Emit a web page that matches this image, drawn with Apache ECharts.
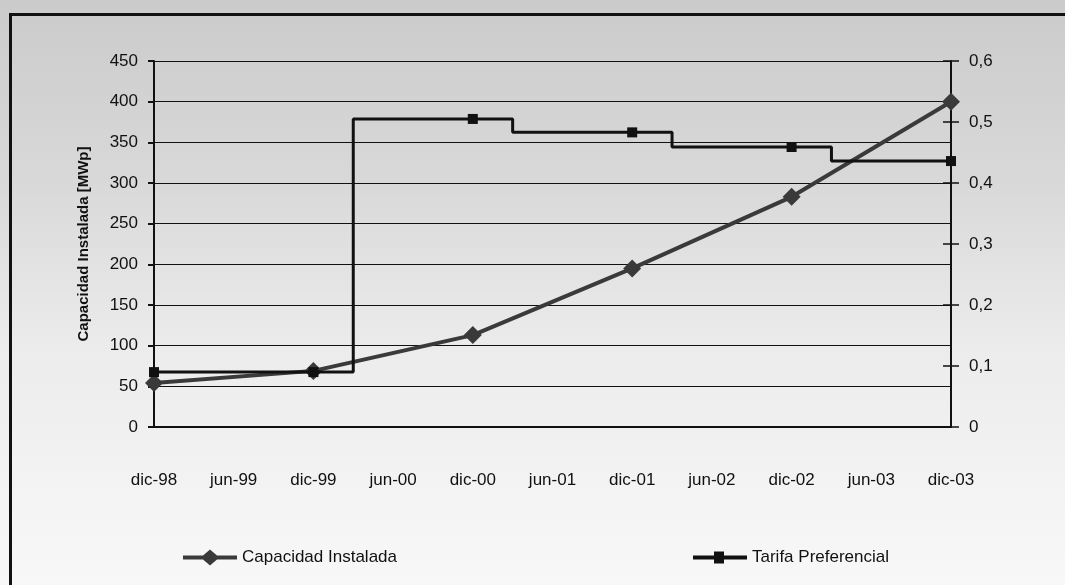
<!DOCTYPE html>
<html>
<head>
<meta charset="utf-8">
<script src="https://cdn.jsdelivr.net/npm/echarts@6/dist/echarts.min.js"></script>
<style>
  html, body { margin: 0; padding: 0; }
  #main { width: 1065px; height: 585px; }
</style>
</head>
<body>
<div id="main"></div>
<script>
// etiquetas del eje x (cada 6 meses, desde dic-98)
var xLabels = ['dic-98', 'jun-99', 'dic-99', 'jun-00', 'dic-00', 'jun-01',
    'dic-01', 'jun-02', 'dic-02', 'jun-03', 'dic-03'];

// capacidad instalada [MWp], meses contados desde dic-98
var capMonths = [0, 12, 24, 36, 48, 60];
var capValues = [54, 69, 113, 195, 283, 400];

// tarifa preferencial (cambia en marzo de cada año)
var tarMonths = [0, 12, 15, 24, 27, 36, 39, 48, 51, 60];
var tarValues = [0.09, 0.09, 0.505, 0.505, 0.483, 0.483, 0.459, 0.459, 0.436, 0.436];
var tarMarker = [true, true, false, true, false, true, false, true, false, true];

var FONT = "'Liberation Sans', Arial, sans-serif";

// iconos de leyenda: linea gruesa con marcador
var capIcon = 'path://M0,6L20,6L27,0L34,6L54,6L54,10L34,10L27,16L20,10L0,10Z';
var tarIcon = 'path://M0,4L21,4L21,0L31,0L31,4L54,4L54,8L31,8L31,12L21,12L21,8L0,8Z';

var capData = capMonths.map(function (m, i) {
    return [m, capValues[i]];
});
var tarData = tarMonths.map(function (m, i) {
    var item = {value: [m, tarValues[i]]};
    if (!tarMarker[i]) {
        item.symbol = 'none';
    }
    return item;
});

var myChart = echarts.init(document.getElementById('main'));
var option = {
    animation: false,
    backgroundColor: new echarts.graphic.LinearGradient(0, 0, 0, 1, [
        {offset: 0, color: '#cbcbcb'},
        {offset: 0.3, color: '#d8d8d8'},
        {offset: 0.6, color: '#ececec'},
        {offset: 1, color: '#f8f8f8'}
    ]),
    textStyle: {fontFamily: FONT},
    graphic: [{
        type: 'rect',
        shape: {x: 10.5, y: 14.5, width: 1100, height: 700},
        style: {fill: 'none', stroke: '#111', lineWidth: 3},
        silent: true
    }],
    grid: {
        left: 154,
        top: 61,
        right: 114,
        bottom: 158
    },
    legend: [{
        left: 178,
        top: 544,
        itemWidth: 54,
        itemHeight: 16,
        itemGap: 5,
        textStyle: {color: '#111', fontSize: 17, fontFamily: FONT},
        data: [{name: 'Capacidad Instalada', icon: capIcon, itemStyle: {color: '#3a3a3a'}}]
    }, {
        left: 688,
        top: 544,
        itemWidth: 54,
        itemHeight: 12,
        textStyle: {color: '#111', fontSize: 17, fontFamily: FONT},
        data: [{name: 'Tarifa Preferencial', icon: tarIcon, itemStyle: {color: '#111'}}]
    }],
    xAxis: {
        type: 'value',
        min: 0,
        max: 60,
        interval: 6,
        axisLine: {show: true, lineStyle: {color: '#111', width: 2}},
        axisTick: {show: false},
        splitLine: {show: false},
        axisLabel: {
            margin: 45,
            color: '#111',
            fontSize: 17,
            fontFamily: FONT,
            formatter: function (v) {
                return xLabels[Math.round(v / 6)];
            }
        }
    },
    yAxis: [{
        type: 'value',
        min: 0,
        max: 450,
        interval: 50,
        name: 'Capacidad Instalada [MWp]',
        nameLocation: 'middle',
        nameRotate: 90,
        nameGap: 63,
        nameTextStyle: {color: '#111', fontSize: 15, fontWeight: 'bold', fontFamily: FONT},
        axisLine: {show: true, lineStyle: {color: '#111', width: 2}},
        axisTick: {show: true, length: 6, lineStyle: {color: '#111', width: 2}},
        axisLabel: {margin: 16, color: '#111', fontSize: 17, fontFamily: FONT},
        splitLine: {show: true, lineStyle: {color: '#111', width: 1.2}}
    }, {
        type: 'value',
        position: 'right',
        min: 0,
        max: 0.6,
        interval: 0.1,
        axisLine: {show: true, lineStyle: {color: '#111', width: 2}},
        axisTick: {show: true, length: 8, lineStyle: {color: '#111', width: 1.5}},
        axisLabel: {
            margin: 18,
            color: '#111',
            fontSize: 17,
            fontFamily: FONT,
            formatter: function (v) {
                return v === 0 ? '0' : v.toFixed(1).replace('.', ',');
            }
        },
        splitLine: {show: false}
    }, {
        // ticks hacia dentro del eje derecho
        type: 'value',
        position: 'right',
        min: 0,
        max: 0.6,
        interval: 0.1,
        axisLine: {show: false},
        axisTick: {show: true, inside: true, length: 8, lineStyle: {color: '#111', width: 1.5}},
        axisLabel: {show: false},
        splitLine: {show: false}
    }],
    series: [{
        name: 'Capacidad Instalada',
        type: 'line',
        yAxisIndex: 0,
        symbol: 'diamond',
        symbolSize: 18,
        color: '#3a3a3a',
        lineStyle: {color: '#3a3a3a', width: 4},
        itemStyle: {color: '#3a3a3a'},
        data: capData,
        z: 3
    }, {
        name: 'Tarifa Preferencial',
        type: 'line',
        yAxisIndex: 1,
        step: 'end',
        symbol: 'rect',
        symbolSize: 10,
        color: '#111',
        lineStyle: {color: '#111', width: 3},
        itemStyle: {color: '#111'},
        data: tarData,
        z: 4
    }]
};
myChart.setOption(option);
</script>
</body>
</html>
